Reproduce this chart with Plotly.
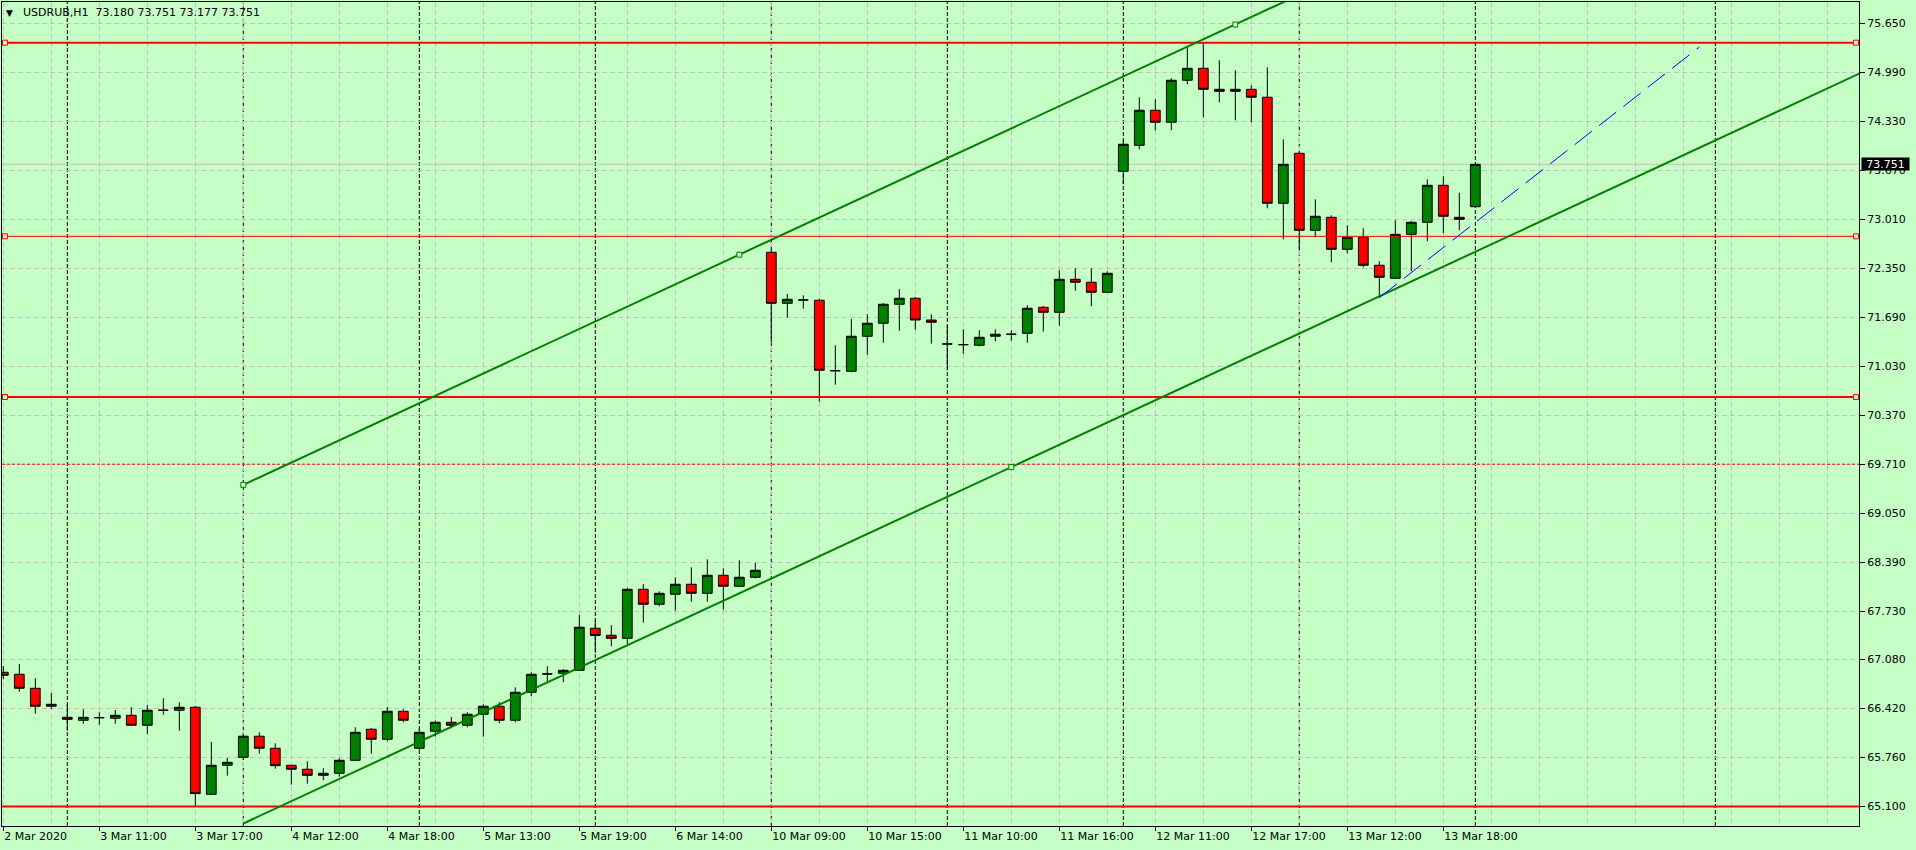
import plotly.graph_objects as go

# ---------------- data ----------------
bars = list(range(93))
opens = [66.909, 66.882, 66.694, 66.452, 66.303, 66.263, 66.298, 66.290, 66.330, 66.196,
         66.398, 66.398, 66.438, 65.266, 65.657, 65.765, 66.048, 65.886, 65.657, 65.603,
         65.522, 65.549, 65.724, 66.142, 66.007, 66.384, 65.886, 66.115, 66.236, 66.196,
         66.344, 66.452, 66.263, 66.640, 66.887, 66.896, 66.936, 67.502, 67.408, 67.367,
         68.027, 67.825, 67.960, 68.095, 67.973, 68.216, 68.068, 68.189, 72.566, 71.879,
         71.924, 71.920, 70.971, 70.963, 71.435, 71.610, 71.866, 71.947, 71.654, 71.331,
         71.322, 71.314, 71.435, 71.462, 71.475, 71.825, 71.758, 72.202, 72.162, 72.027,
         73.657, 74.007, 74.479, 74.317, 74.883, 75.044, 74.761, 74.734, 74.761, 74.654,
         73.226, 73.899, 72.862, 73.037, 72.606, 72.768, 72.391, 72.216, 72.808, 72.970,
         73.468, 73.037, 73.180]
highs = [66.994, 67.021, 66.829, 66.631, 66.478, 66.411, 66.371, 66.402, 66.438, 66.469,
         66.559, 66.505, 66.456, 65.971, 65.755, 66.080, 66.101, 65.953, 65.660, 65.711,
         65.617, 65.751, 66.169, 66.159, 66.438, 66.411, 66.146, 66.260, 66.307, 66.371,
         66.478, 66.505, 66.707, 66.909, 66.990, 66.954, 67.681, 67.610, 67.543, 68.045,
         68.099, 68.000, 68.189, 68.324, 68.431, 68.310, 68.418, 68.382, 72.597, 72.004,
         71.987, 71.941, 71.314, 71.668, 71.731, 71.883, 72.072, 71.964, 71.731, 71.583,
         71.529, 71.516, 71.529, 71.516, 71.852, 71.843, 72.324, 72.351, 72.351, 72.310,
         74.074, 74.654, 74.627, 74.910, 75.340, 75.394, 75.152, 75.017, 74.815, 75.058,
         74.088, 73.917, 73.280, 73.064, 72.930, 72.889, 72.445, 72.997, 72.987, 73.549,
         73.590, 73.369, 73.751]
lows = [66.815, 66.648, 66.352, 66.415, 66.123, 66.217, 66.204, 66.217, 66.190, 66.079,
        66.339, 66.123, 65.109, 65.257, 65.517, 65.728, 65.813, 65.611, 65.396, 65.409,
        65.455, 65.503, 65.720, 65.813, 65.980, 66.236, 65.863, 66.042, 66.155, 66.170,
        66.042, 66.223, 66.236, 66.586, 66.775, 66.775, 66.930, 67.173, 67.260, 67.291,
        67.578, 67.798, 67.739, 67.860, 67.860, 67.753, 68.060, 68.175, 71.354, 71.685,
        71.806, 70.554, 70.783, 70.950, 71.187, 71.349, 71.510, 71.524, 71.335, 70.977,
        71.200, 71.300, 71.367, 71.376, 71.349, 71.497, 71.578, 72.049, 71.839, 72.018,
        73.482, 73.953, 74.209, 74.209, 74.829, 74.384, 74.586, 74.344, 74.317, 73.159,
        72.741, 72.593, 72.768, 72.431, 72.553, 72.364, 71.955, 72.210, 72.310, 72.714,
        72.822, 72.862, 73.177]
closes = [66.869, 66.694, 66.452, 66.478, 66.276, 66.303, 66.298, 66.330, 66.196, 66.398,
          66.398, 66.438, 65.275, 65.657, 65.697, 66.048, 65.886, 65.652, 65.603, 65.522,
          65.549, 65.724, 66.101, 66.007, 66.384, 66.263, 66.101, 66.236, 66.196, 66.344,
          66.452, 66.263, 66.640, 66.882, 66.887, 66.936, 67.516, 67.405, 67.367, 68.027,
          67.825, 67.973, 68.095, 67.973, 68.216, 68.068, 68.189, 68.283, 71.879, 71.933,
          71.924, 70.977, 70.971, 71.435, 71.610, 71.866, 71.947, 71.654, 71.623, 71.331,
          71.322, 71.421, 71.462, 71.462, 71.812, 71.758, 72.202, 72.162, 72.027, 72.283,
          74.021, 74.479, 74.317, 74.883, 75.044, 74.761, 74.734, 74.761, 74.654, 73.226,
          73.751, 72.862, 73.051, 72.606, 72.768, 72.391, 72.229, 72.808, 72.970, 73.468,
          73.051, 73.010, 73.751]

tick_bars = [0, 6, 12, 18, 24, 30, 36, 42, 48, 54, 60, 66, 72, 78, 84, 90]
tick_labels = ["2 Mar 2020", "3 Mar 11:00", "3 Mar 17:00", "4 Mar 12:00", "4 Mar 18:00",
               "5 Mar 13:00", "5 Mar 19:00", "6 Mar 14:00", "10 Mar 09:00", "10 Mar 15:00",
               "11 Mar 10:00", "11 Mar 16:00", "12 Mar 11:00", "12 Mar 17:00",
               "13 Mar 12:00", "13 Mar 18:00"]

price_ticks = [75.65, 74.99, 74.33, 73.67, 73.01, 72.35, 71.69, 71.03, 70.37, 69.71,
               69.05, 68.39, 67.73, 67.08, 66.42, 65.76, 65.10]
price_tick_labels = ["%.3f" % p for p in price_ticks]

separator_bars = [4, 15, 26, 37, 48, 59, 70, 81, 92, 107]

level_prices = [75.389, 72.781, 70.617, 69.712, 65.100]
level_widths = [2, 1, 2, 1, 2]
level_dashes = ["solid", "solid", "solid", "3px,2px", "solid"]
level_handles = [True, True, True, False, False]

upper_line_bars = [15, 90]
upper_line_prices = [69.434, 76.934]
upper_anchor_bars = [15, 46, 77]
upper_anchor_prices = [69.434, 72.534, 75.634]
lower_line_bars = [15, 116]
lower_line_prices = [64.873, 74.973]
lower_anchor_bars = [63]
lower_anchor_prices = [69.673]

trend_bars = [86, 106]
trend_prices = [71.955, 75.330]

bid_price = 73.751
symbol_name = "USDRUB,H1"

# ---------------- styling ----------------
BG = "#C6FFC6"
GRID = "#C0C0C0"
GREEN = "#008000"
RED = "#FF0000"
FONT = dict(family="DejaVu Sans", size=11, color="black")

x_range = [-0.081, 115.98]
y_range = [64.839, 75.937]

fig = go.Figure()

fig.add_trace(go.Candlestick(
    x=bars, open=opens, high=highs, low=lows, close=closes,
    increasing=dict(fillcolor=GREEN, line=dict(color="black", width=1)),
    decreasing=dict(fillcolor=RED, line=dict(color="black", width=1)),
    whiskerwidth=0, hoverinfo="skip", showlegend=False,
))

# horizontal levels
for p, w, d in zip(level_prices, level_widths, level_dashes):
    fig.add_trace(go.Scatter(x=x_range, y=[p, p], mode="lines",
                             line=dict(color=RED, width=w, dash=d),
                             hoverinfo="skip", showlegend=False))

# channel
fig.add_trace(go.Scatter(x=upper_line_bars, y=upper_line_prices, mode="lines",
                         line=dict(color=GREEN, width=2), hoverinfo="skip", showlegend=False))
fig.add_trace(go.Scatter(x=lower_line_bars, y=lower_line_prices, mode="lines",
                         line=dict(color=GREEN, width=2), hoverinfo="skip", showlegend=False))

# trend line
fig.add_trace(go.Scatter(x=trend_bars, y=trend_prices, mode="lines",
                         line=dict(color="#0000FF", width=1, dash="22px,9px"),
                         hoverinfo="skip", showlegend=False))

# handles
hx, hy = [], []
for p, h in zip(level_prices, level_handles):
    if h:
        hx += [x_range[0] + 0.19, x_range[1] - 0.19]
        hy += [p, p]
fig.add_trace(go.Scatter(x=hx, y=hy, mode="markers",
                         marker=dict(symbol="square", size=5, color=BG,
                                     line=dict(color=RED, width=1)),
                         hoverinfo="skip", showlegend=False, cliponaxis=False))
fig.add_trace(go.Scatter(x=upper_anchor_bars + lower_anchor_bars,
                         y=upper_anchor_prices + lower_anchor_prices, mode="markers",
                         marker=dict(symbol="square", size=5, color=BG,
                                     line=dict(color=GREEN, width=1)),
                         hoverinfo="skip", showlegend=False))

shapes = []
for s in separator_bars:
    shapes.append(dict(type="line", xref="x", yref="y", x0=s, x1=s,
                       y0=y_range[0], y1=y_range[1], layer="below",
                       line=dict(color="black", width=1, dash="4px,2px")))
shapes.append(dict(type="line", xref="x", yref="y", x0=x_range[0], x1=x_range[1],
                   y0=bid_price, y1=bid_price, layer="below",
                   line=dict(color=GRID, width=1)))

annotations = [
    dict(xref="paper", yref="y", x=1, y=bid_price, xanchor="left", yanchor="middle",
         xshift=2, text="%.3f" % bid_price, showarrow=False, bgcolor="black",
         font=dict(family="DejaVu Sans", size=11, color="white"),
         borderpad=0, width=47, height=12, align="center"),
    dict(xref="paper", yref="paper", x=0, y=1, xanchor="left", yanchor="middle",
         xshift=3, yshift=-10.5, text="\u25BC", showarrow=False,
         font=dict(family="DejaVu Sans", size=9, color="black"), borderpad=0),
    dict(xref="paper", yref="paper", x=0, y=1, xanchor="left", yanchor="middle",
         xshift=20, yshift=-10.5,
         text=symbol_name + "\u00a0\u00a0" + " ".join("%.3f" % v for v in
                                                     [opens[-1], highs[-1], lows[-1], closes[-1]]),
         showarrow=False, font=FONT, borderpad=0),
]

fig.update_layout(
    width=1916, height=850,
    margin=dict(l=2, r=57, t=2, b=24),
    paper_bgcolor=BG, plot_bgcolor=BG,
    showlegend=False, hovermode=False,
    font=FONT,
    boxgap=0.39, boxgroupgap=0,
    shapes=shapes, annotations=annotations,
    xaxis=dict(
        range=x_range, tickmode="array", tickvals=tick_bars, ticktext=tick_labels,
        ticks="outside", ticklen=4, tickcolor="black", tickwidth=1,
        ticklabelposition="outside right", tickfont=FONT,
        showgrid=True, gridcolor=GRID, griddash="5px,3px", gridwidth=1,
        minor=dict(tickmode="linear", tick0=0, dtick=3, showgrid=True,
                   gridcolor=GRID, griddash="5px,3px", gridwidth=1, ticks=""),
        showline=True, linecolor="black", linewidth=1, mirror=True,
        zeroline=False, rangeslider=dict(visible=False), automargin=False,
    ),
    yaxis=dict(
        side="right", range=y_range, tickmode="array", tickvals=price_ticks,
        ticktext=price_tick_labels, ticks="outside", ticklen=5, tickcolor="black",
        tickfont=FONT, showgrid=True, gridcolor=GRID, griddash="5px,3px", gridwidth=1,
        showline=True, linecolor="black", linewidth=1, mirror=True,
        zeroline=False, automargin=False,
    ),
)

fig.write_html("out.html", config={"displayModeBar": False})

# remove default page margin so the figure sits at the window's top-left corner
with open("out.html", "r", encoding="utf-8") as f:
    html = f.read()
html = html.replace("<head>", "<head><style>html,body{margin:0;padding:0;overflow:hidden;background:%s;}</style>" % BG, 1)
with open("out.html", "w", encoding="utf-8") as f:
    f.write(html)
